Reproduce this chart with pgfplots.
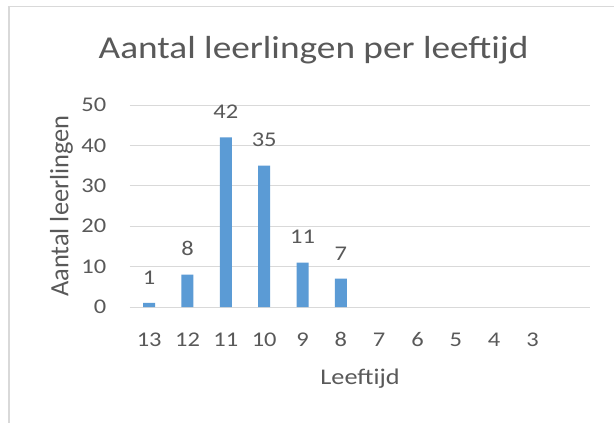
\documentclass[border=0pt]{standalone}
\usepackage{pgfplots}
\pgfplotsset{compat=1.18}
\usepackage{fontspec}
\setmainfont{Carlito}
\newfontfamily\wfont{Carlito}[FakeStretch=1.17]
\definecolor{txt}{HTML}{595959}
\definecolor{gridc}{HTML}{D9D9D9}
\definecolor{barc}{HTML}{5B9BD5}
\begin{document}
\begin{tikzpicture}
\useasboundingbox (-130bp,-116bp) rectangle (484bp,307bp);
\fill[white] (-130bp,-116bp) rectangle (484bp,307bp);
\draw[gridc, line width=1bp] (-122bp,300bp) -- (484bp,300bp);
\draw[gridc, line width=1.6bp] (-121bp,300bp) -- (-121bp,-116bp);
\begin{axis}[
  at={(0,0)}, anchor=south west,
  scale only axis, width=460bp, height=202bp,
  xmin=-0.5, xmax=11.5, ymin=0, ymax=50,
  axis line style={draw=none},
  major tick length=0pt,
  ytick={0,10,20,30,40,50},
  xtick={0,1,2,3,4,5,6,7,8,9,10},
  xticklabels={13,12,11,10,9,8,7,6,5,4,3},
  ymajorgrids, xmajorgrids=false,
  major grid style={draw=gridc, line width=0.9bp},
  /pgf/number format/assume math mode=true,
  tick label style={text=txt, font=\wfont\fontsize{21}{21}\selectfont, inner sep=0pt},
  xticklabel style={anchor=base, yshift=-39.7bp},
  yticklabel style={anchor=east, xshift=-23.5bp},
  ybar, bar width=12bp,
  nodes near coords,
  every node near coord/.append style={anchor=base, yshift=18.7bp, text=txt, font=\wfont\fontsize{21}{21}\selectfont, inner sep=0pt},
]
\addplot[fill=barc, draw=none] coordinates {(0,1) (1,8) (2,42) (3,35) (4,11) (5,7)};
\end{axis}
\node[anchor=base, text=txt, font=\wfont\fontsize{32}{32}\selectfont, inner sep=0pt] at (183.6bp,248.7bp) {Aantal leerlingen per leeftijd};
\node[anchor=base, text=txt, font=\wfont\fontsize{22.5}{22.5}\selectfont, inner sep=0pt] at (230bp,-77bp) {Leeftijd};
\node[anchor=base, rotate=90, text=txt, font=\fontsize{26.5}{26.5}\selectfont, inner sep=0pt] at (-61.5bp,101bp) {Aantal leerlingen};
\end{tikzpicture}
\end{document}
